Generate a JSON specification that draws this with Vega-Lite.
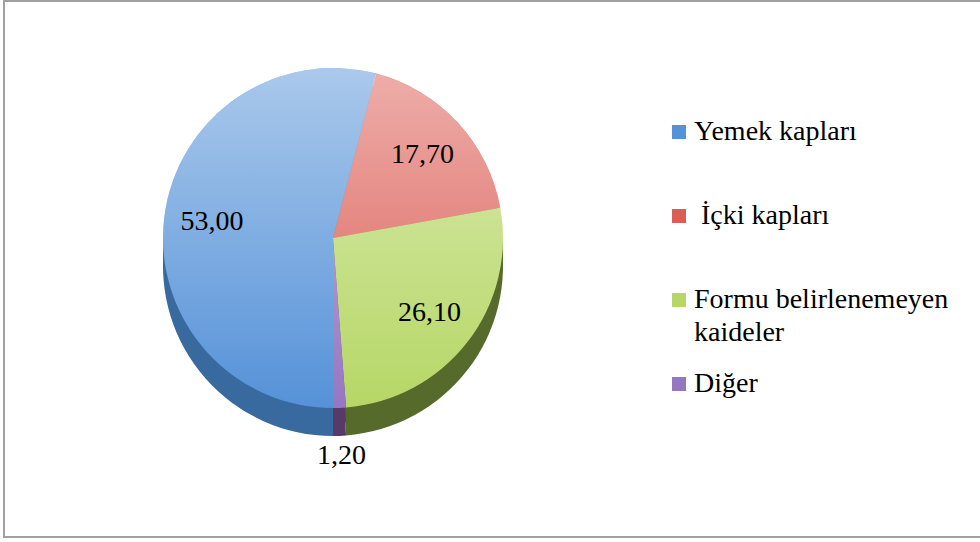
{
  "$schema": "https://vega.github.io/schema/vega-lite/v6.json",
  "width": 978,
  "height": 536,
  "autosize": {"type": "none"},
  "padding": {"left": 4, "top": 1, "right": 0, "bottom": 5},
  "background": "white",
  "view": {"stroke": "#a0a0a0", "strokeWidth": 2},
  "config": {
    "locale": {
      "number": {"decimal": ",", "thousands": ".", "grouping": [3], "currency": ["", " TL"]}
    }
  },
  "data": {
    "values": [
      {"kategori": "Yemek kapları", "deger": 53.0, "sira": 1},
      {"kategori": "\u00a0İçki kapları", "deger": 17.7, "sira": 2},
      {"kategori": "Formu belirlenemeyen kaideler", "deger": 26.1, "sira": 3},
      {"kategori": "Diğer", "deger": 1.2, "sira": 4}
    ]
  },
  "encoding": {
    "theta": {
      "field": "deger",
      "type": "quantitative",
      "stack": true,
      "scale": {"range": [3.141593, 9.424778]}
    },
    "order": {"field": "sira", "type": "quantitative"}
  },
  "layer": [
    {
      "mark": {"type": "arc", "x": 329, "y": 237, "radius": 170, "yOffset": 28},
      "encoding": {
        "fill": {
          "field": "kategori",
          "type": "nominal",
          "sort": null,
          "scale": {"range": ["#386a9f", "#a2413b", "#566a2c", "#573a68"]},
          "legend": null
        }
      }
    },
    {
      "mark": {"type": "arc", "x": 329, "y": 237, "radius": 170, "yOffset": 14},
      "encoding": {
        "fill": {"field": "kategori", "type": "nominal", "sort": null, "legend": null}
      }
    },
    {
      "mark": {"type": "arc", "x": 329, "y": 237, "radius": 170},
      "encoding": {
        "color": {
          "field": "kategori",
          "type": "nominal",
          "sort": null,
          "scale": {"range": ["#5592d8", "#dc5d55", "#b6d766", "#9576c3"]},
          "legend": {
            "orient": "none",
            "legendX": 661,
            "legendY": 117,
            "title": null,
            "padding": 0,
            "symbolType": "square",
            "symbolSize": 196,
            "symbolStrokeWidth": 0,
            "labelFont": "Liberation Serif",
            "labelFontSize": 28,
            "labelColor": "#000000",
            "labelLimit": 400,
            "labelOffset": 1,
            "rowPadding": 23,
            "gridAlign": "all",
            "labelBaseline": "top",
            "labelExpr": "datum.label == 'Formu belirlenemeyen kaideler' ? ['Formu belirlenemeyen', 'kaideler'] : datum.label",
            "encode": {
              "labels": {
                "update": {
                  "lineHeight": {"value": 33},
                  "dy": {"value": -14},
                  "dx": {"signal": "test(/^\\s/, datum.value) ? 7 : 0"}
                }
              }
            }
          }
        }
      }
    },
    {
      "transform": [{"aggregate": [{"op": "sum", "field": "deger", "as": "toplam"}]}],
      "mark": {
        "type": "arc",
        "x": 329,
        "y": 237,
        "radius": 170,
        "theta": 0,
        "theta2": 6.283185,
        "fill": {
          "gradient": "linear",
          "x1": 0, "y1": 0, "x2": 0, "y2": 1,
          "stops": [
            {"offset": 0, "color": "rgba(255,255,255,0.5)"},
            {"offset": 1, "color": "rgba(255,255,255,0)"}
          ]
        }
      },
      "encoding": {"theta": null, "order": null}
    },
    {
      "mark": {
        "type": "text",
        "x": 329,
        "y": 237,
        "radius": 122,
        "font": "Liberation Serif",
        "fontSize": 28,
        "color": "#000000"
      },
      "encoding": {
        "text": {
          "condition": {"test": "datum.deger < 5", "value": ""},
          "field": "deger",
          "type": "quantitative",
          "format": ".2f"
        }
      }
    },
    {
      "mark": {
        "type": "text",
        "x": 329,
        "y": 237,
        "radius": 218,
        "font": "Liberation Serif",
        "fontSize": 28,
        "color": "#000000"
      },
      "encoding": {
        "text": {
          "condition": {"test": "datum.deger >= 5", "value": ""},
          "field": "deger",
          "type": "quantitative",
          "format": ".2f"
        }
      }
    }
  ]
}
